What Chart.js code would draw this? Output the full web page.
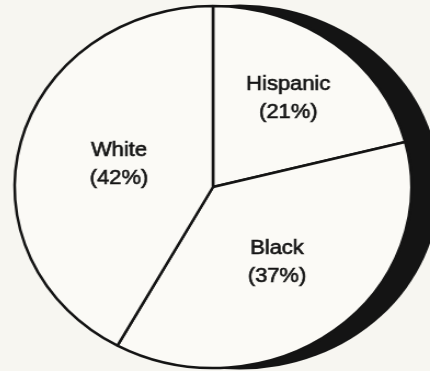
<!DOCTYPE html>
<html>
<head>
<meta charset="utf-8">
<script src="https://cdn.jsdelivr.net/npm/chart.js@4/dist/chart.umd.min.js"></script>
<style>
  html, body { margin: 0; padding: 0; background: #f7f6f1; overflow: hidden; }
  body { width: 430px; height: 371px; position: relative; }
  /* the printed pie is a slightly flattened ellipse, so the square chart is stretched sideways */
  #wrap { position: absolute; left: 13px; top: 2px; width: 420px; height: 370px;
          transform: scaleX(1.096); transform-origin: 200px 185px; }
</style>
</head>
<body>
<div id="wrap"><canvas id="pie" width="420" height="370"></canvas></div>
<script>
const groups = ['Hispanic', 'Black', 'White'];
const shares = [21, 37, 42];
const sliceFill = '#fbfaf6';
const inkColor = '#141414';

// black crescent behind the pie (offset copy of the disc)
const shadowPlugin = {
    id: 'shadow',
    beforeDatasetsDraw(chart) {
        const arc = chart.getDatasetMeta(0).data[0];
        if (!arc) return;
        const { x, y, outerRadius } = arc.getProps(['x', 'y', 'outerRadius'], true);
        const ctx = chart.ctx;
        ctx.save();
        ctx.fillStyle = inkColor;
        ctx.beginPath();
        ctx.arc(x + 24.5, y, outerRadius + 1.5, 0, Math.PI * 2);
        ctx.fill();
        ctx.restore();
    }
};

// "Name" / "(nn%)" written at the centroid of each slice
const sliceLabels = {
    id: 'sliceLabels',
    afterDatasetsDraw(chart) {
        const ctx = chart.ctx;
        const meta = chart.getDatasetMeta(0);
        ctx.save();
        ctx.fillStyle = inkColor;
        ctx.strokeStyle = inkColor;
        ctx.lineWidth = 0.6;
        ctx.font = '20px "Liberation Sans", Arial, sans-serif';
        ctx.textAlign = 'center';
        ctx.textBaseline = 'middle';
        meta.data.forEach((arc, i) => {
            const p = arc.getProps(['x', 'y', 'startAngle', 'endAngle', 'outerRadius'], true);
            const mid = (p.startAngle + p.endAngle) / 2;
            const half = (p.endAngle - p.startAngle) / 2;
            const r = p.outerRadius * (2 / 3) * Math.sin(half) / half;
            const cx = p.x + Math.cos(mid) * r;
            const cy = p.y + Math.sin(mid) * r;
            const lines = [groups[i], '(' + shares[i] + '%)'];
            lines.forEach((t, k) => {
                const ty = cy + (k === 0 ? -14 : 14);
                ctx.fillText(t, cx, ty);
                ctx.strokeText(t, cx, ty);
            });
        });
        ctx.restore();
    }
};

new Chart(document.getElementById('pie'), {
    type: 'pie',
    data: {
        labels: groups,
        datasets: [{
            data: shares,
            backgroundColor: sliceFill,
            borderColor: inkColor,
            borderWidth: 2.5,
            hoverOffset: 0
        }]
    },
    options: {
        responsive: false,
        animation: false,
        radius: 181,
        // keep the pie centred at x=200 while leaving room on the right for the crescent
        layout: { padding: { right: 20 } },
        plugins: {
            legend: { display: false },
            tooltip: { enabled: false }
        },
        events: []
    },
    plugins: [shadowPlugin, sliceLabels]
});
</script>
</body>
</html>
